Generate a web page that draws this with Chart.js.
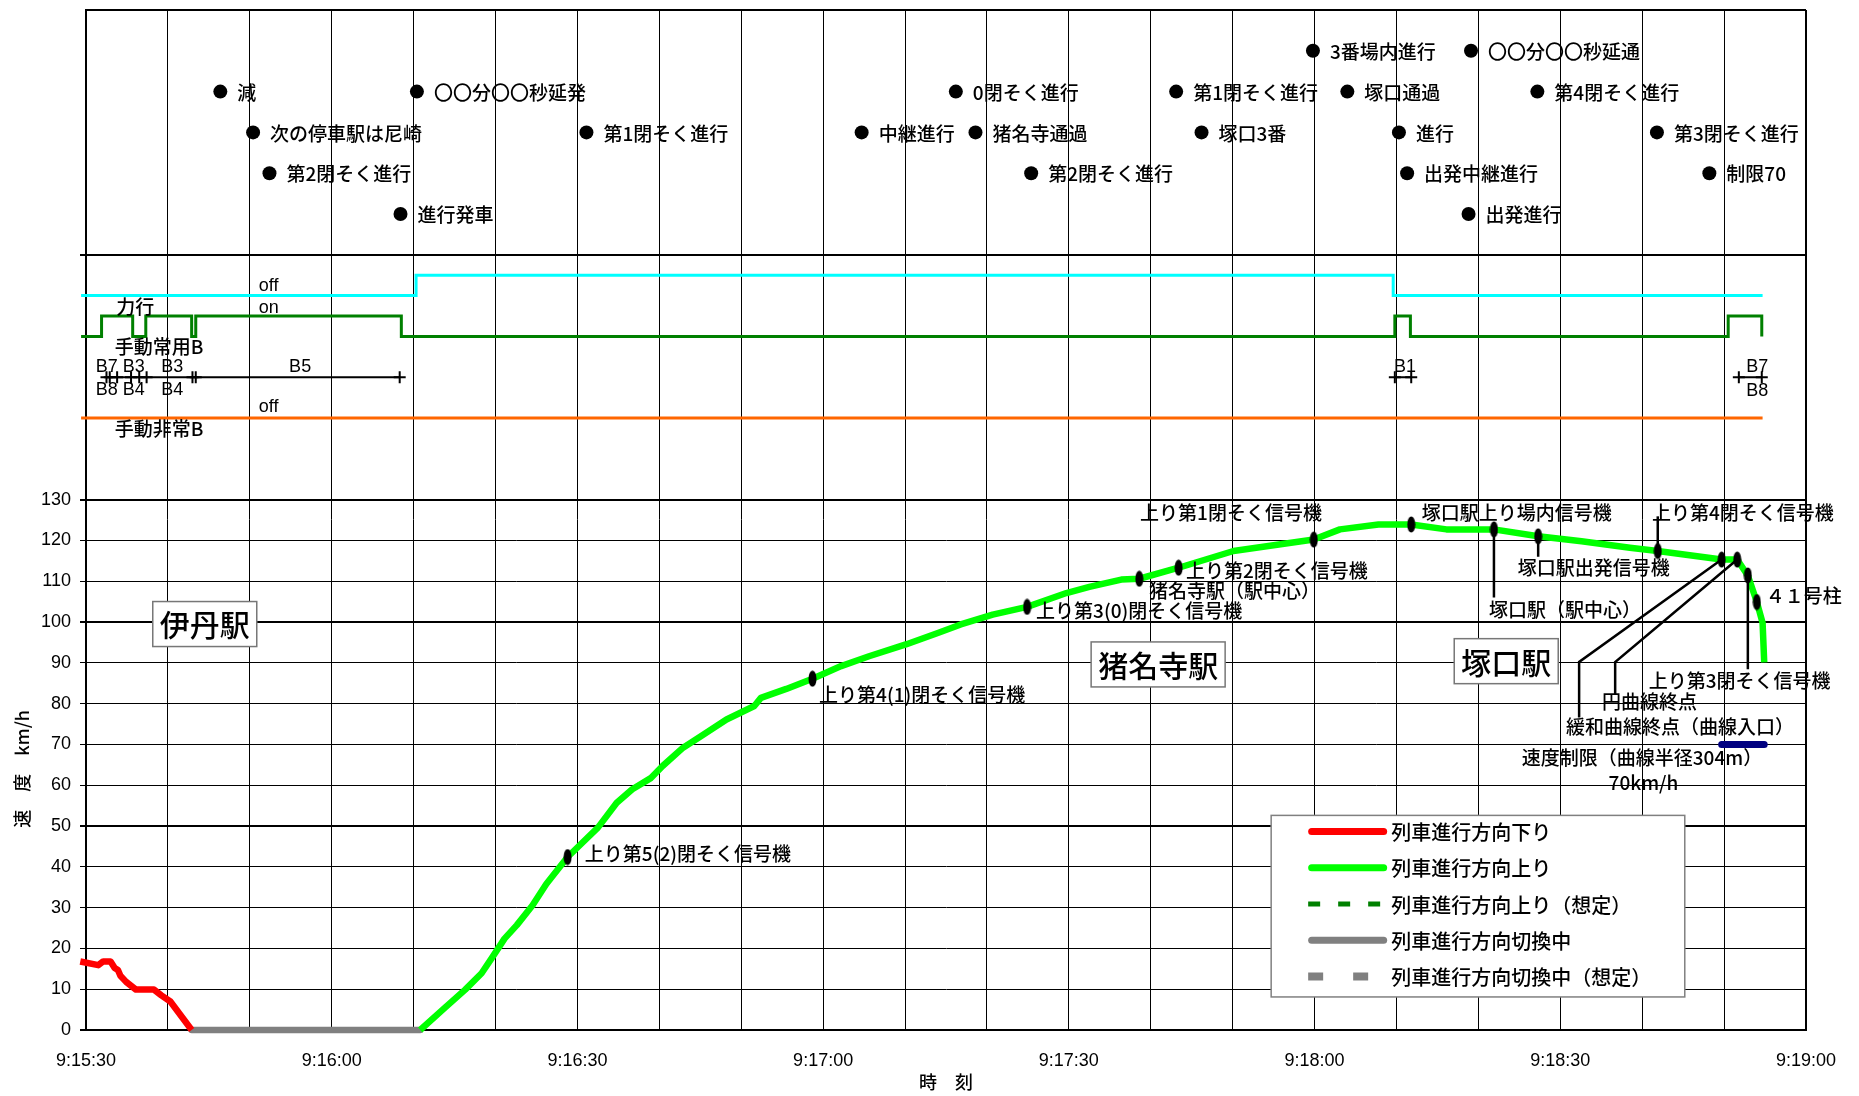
<!DOCTYPE html>
<html lang="ja">
<head>
<meta charset="utf-8">
<title>運転状況</title>
<script src="https://cdn.jsdelivr.net/npm/chart.js@4.4.1/dist/chart.umd.min.js"></script>
<style>
  html, body { margin: 0; padding: 0; background: #fff; }
</style>
</head>
<body>
<canvas id="chart" width="1859" height="1096"></canvas>
<script>
/* ------------------------------------------------------------------ */
/*  Data (time = seconds after 9:15:30, speed in km/h)                 */
/* ------------------------------------------------------------------ */

var T0 = 9 * 3600 + 15 * 60 + 30;

// 列車進行方向下り
var downT = [-0.7, 1.5, 2.1, 3.0, 3.5, 3.9, 4.2, 4.9, 6.1, 8.3, 9.2, 10.3, 12.9];
var downV = [16.8, 15.9, 16.8, 16.8, 15.2, 14.7, 13.3, 11.8, 9.9, 9.9, 8.5, 7.0, 0];

// 列車進行方向切換中
var switchT = [12.9, 40.8];
var switchV = [0, 0];

// 列車進行方向上り
var upT = [40.8, 43.9, 46.3, 48.3, 49.7, 51.1, 52.6, 54.5, 56.2, 58.8,
           62.5, 64.8, 66.7, 69.0, 70.4, 72.9, 75.4, 78.2, 81.6, 82.4,
           85.5, 88.7, 92.2, 95.6, 100.1, 104.0, 106.8, 110.7, 114.9, 119.7,
           122.5, 126.4, 128.6, 133.4, 140.1, 149.9, 153.1, 157.8, 161.8, 166.1,
           171.9, 177.3, 182.6, 188.5, 191.9, 199.7, 201.6, 202.9, 204.0, 204.7,
           204.9];
var upV = [0, 5.6, 9.9, 13.9, 18.1, 22.4, 25.7, 30.5, 35.8, 42.4,
           49.6, 55.7, 59.0, 61.8, 64.7, 69.2, 72.4, 76.1, 79.4, 81.4,
           83.6, 86.1, 89.2, 91.6, 94.5, 97.3, 99.4, 101.8, 103.7, 107.1,
           108.6, 110.4, 110.6, 113.3, 117.4, 120.2, 122.7, 123.9, 123.9, 122.7,
           122.7, 121.0, 119.8, 118.2, 117.4, 115.3, 115.3, 111.4, 104.9, 99.8,
           90.1];

// 速度制限 70km/h
var limitT = [199.7, 204.9];
var limitV = [70, 70];

// wayside points on the 上り run
var markNames = ["上り第5(2)閉そく信号機", "上り第4(1)閉そく信号機", "上り第3(0)閉そく信号機",
                 "猪名寺駅（駅中心）", "上り第2閉そく信号機", "上り第1閉そく信号機",
                 "塚口駅上り場内信号機", "塚口駅（駅中心）", "塚口駅出発信号機",
                 "上り第4閉そく信号機", "緩和曲線終点（曲線入口）", "円曲線終点",
                 "上り第3閉そく信号機", "４１号柱"];
var markT = [58.8, 88.7, 114.9, 128.6, 133.4, 149.9, 161.8, 171.9, 177.3, 191.9, 199.7, 201.6, 202.9, 204.0];
var markV = [42.4, 86.1, 103.7, 110.6, 113.3, 120.2, 123.9, 122.7, 121.0, 117.4, 115.3, 115.3, 111.4, 104.9];

// 喚呼 events (row 0 = top line)
var eventNames = ["3番場内進行", "〇〇分〇〇秒延通",
                  "減", "〇〇分〇〇秒延発", "0閉そく進行", "第1閉そく進行", "塚口通過", "第4閉そく進行",
                  "次の停車駅は尼崎", "第1閉そく進行", "中継進行", "猪名寺通過", "塚口3番", "進行", "第3閉そく進行",
                  "第2閉そく進行", "第2閉そく進行", "出発中継進行", "制限70",
                  "進行発車", "出発進行"];
var eventT = [149.8, 169.1,
              16.4, 40.4, 106.2, 133.1, 154.0, 177.2,
              20.4, 61.1, 94.7, 108.6, 136.2, 160.3, 191.8,
              22.4, 115.4, 161.3, 198.2,
              38.4, 168.8];
var eventRow = [0, 0,
                1, 1, 1, 1, 1, 1,
                2, 2, 2, 2, 2, 2, 2,
                3, 3, 3, 3,
                4, 4];

// on/off signals (0 = off, 1 = on), value holds from each time
var cyanT = [-0.6, 40.3, 159.6, 204.7];
var cyanS = [0, 1, 0, 0];
var powerT = [-0.6, 1.9, 5.7, 7.3, 12.9, 13.4, 38.5, 159.8, 161.7, 200.5, 204.6];
var powerS = [0, 1, 0, 1, 0, 1, 0, 1, 0, 1, 0];
var emergT = [-0.6, 204.7];
var emergS = [0, 0];

// 手動常用B notch changes
var brakeGroups = [
  [2.5, 2.9, 3.8, 5.5, 6.5, 7.4, 13.0, 13.4, 38.3],
  [159.8, 161.8],
  [201.8, 204.6]
];

var stationNames = ["伊丹駅", "猪名寺駅", "塚口駅"];
var yTicks = [0, 10, 20, 30, 40, 50, 60, 70, 80, 90, 100, 110, 120, 130];

/* ------------------------------------------------------------------ */
/*  Annotation layout (chart units)                                    */
/* ------------------------------------------------------------------ */

var JP = '"Noto Sans CJK JP", "Noto Sans", sans-serif';
var LAT = '"Liberation Sans", Arial, sans-serif';

var ROW_TOP = 240, ROW_STEP = 10;
var CYAN_BASE = 180, POWER_BASE = 170, BRAKE_LEVEL = 160, EMERG_BASE = 150, STEP_H = 5;

var markLabelT = [60.9, 89.5, 116.0, 129.8, 134.3, 128.7, 163.1, 171.3, 174.8, 191.2, 180.7, 185.1, 190.8, 205.1];
var markLabelV = [43.1, 82.2, 102.7, 107.6, 112.5, 126.7, 126.7, 103.1, 113.3, 126.7, 74.4, 80.4, 85.7, 106.4];

var leaders = [
  { mark: 9,  via: [[191.9, 125.9]] },
  { mark: 8,  via: [[177.3, 116.0]] },
  { mark: 7,  via: [[171.9, 106.0]] },
  { mark: 12, via: [[202.9, 88.4]] },
  { mark: 11, via: [[186.7, 90.2], [186.7, 82.1]] },
  { mark: 10, via: [[182.3, 90.2], [182.3, 76.6]] }
];

var extraLabels = [
  { text: "速度制限（曲線半径304m）", t: 175.3, v: 66.8 },
  { text: "70km/h", t: 185.9, v: 60.7 }
];

var stationBox = [[14.5, 99.5], [130.9, 89.6], [173.4, 90.4]];

var bandLabels = [
  { text: "off", t: 21.1, v: 182.4, f: LAT },
  { text: "力行", t: 3.7, v: 177.2, f: JP },
  { text: "on", t: 21.1, v: 176.9, f: LAT },
  { text: "手動常用B", t: 3.5, v: 167.4, f: JP },
  { text: "B7", t: 1.2, v: 162.5, f: LAT },
  { text: "B3", t: 4.5, v: 162.5, f: LAT },
  { text: "B3", t: 9.2, v: 162.5, f: LAT },
  { text: "B5", t: 24.8, v: 162.5, f: LAT },
  { text: "B8", t: 1.2, v: 156.8, f: LAT },
  { text: "B4", t: 4.5, v: 156.8, f: LAT },
  { text: "B4", t: 9.2, v: 156.8, f: LAT },
  { text: "off", t: 21.1, v: 152.6, f: LAT },
  { text: "手動非常B", t: 3.5, v: 147.3, f: JP },
  { text: "B1", t: 159.7, v: 162.5, f: LAT },
  { text: "B7", t: 202.7, v: 162.5, f: LAT },
  { text: "B8", t: 202.7, v: 156.6, f: LAT }
];

/* ------------------------------------------------------------------ */
/*  Helpers                                                            */
/* ------------------------------------------------------------------ */

function pts(ts, vs) {
  return ts.map(function (t, i) { return { x: t, y: vs[i] }; });
}

function steps(ts, ss, base) {
  return ts.map(function (t, i) { return { x: t, y: base + ss[i] * STEP_H }; });
}

function brakePoints() {
  var out = [];
  brakeGroups.forEach(function (g, gi) {
    if (gi > 0) out.push({ x: g[0], y: null });
    g.forEach(function (t) { out.push({ x: t, y: BRAKE_LEVEL }); });
  });
  return out;
}

function fmtTime(t) {
  var s = T0 + t, h = Math.floor(s / 3600), m = Math.floor(s / 60) % 60, sec = s % 60;
  return h + ":" + (m < 10 ? "0" : "") + m + ":" + (sec < 10 ? "0" : "") + sec;
}

function markImage() {
  var c = document.createElement("canvas");
  c.width = 9; c.height = 17;
  var g = c.getContext("2d");
  g.fillStyle = "#000";
  g.beginPath();
  g.ellipse(4.5, 8.5, 4, 8, 0, 0, Math.PI * 2);
  g.fill();
  return c;
}

function lineDs(data, color, width, extra) {
  var ds = { data: data, showLine: true, borderColor: color, backgroundColor: color,
             borderWidth: width, pointRadius: 0, fill: false, clip: false,
             borderJoinStyle: "round" };
  for (var k in extra) { ds[k] = extra[k]; }
  return ds;
}

/* ------------------------------------------------------------------ */
/*  Datasets                                                           */
/* ------------------------------------------------------------------ */

var datasets = [];

datasets.push({ data: pts(markT, markV), showLine: false, pointStyle: markImage(),
                pointRadius: 8, clip: false });

datasets.push({ data: eventT.map(function (t, i) { return { x: t, y: ROW_TOP - eventRow[i] * ROW_STEP }; }),
                showLine: false, pointStyle: "circle", pointRadius: 7,
                backgroundColor: "#000", borderWidth: 0, eventLabels: true });

leaders.forEach(function (l) {
  var d = [{ x: markT[l.mark], y: markV[l.mark] }];
  l.via.forEach(function (p) { d.push({ x: p[0], y: p[1] }); });
  datasets.push(lineDs(d, "#000", 2.5, { borderJoinStyle: "miter" }));
});

datasets.push(lineDs(pts(limitT, limitV), "#000080", 7, { borderCapStyle: "round" }));

datasets.push(lineDs(pts(downT, downV), "#ff0000", 6.5,
  { legend: "列車進行方向下り", lw: 7, lcap: "round" }));
datasets.push(lineDs(pts(upT, upV), "#00ff00", 6.5,
  { legend: "列車進行方向上り", lw: 7, lcap: "round" }));
datasets.push(lineDs([], "#008000", 5,
  { legend: "列車進行方向上り（想定）", lw: 5, ldash: [12, 18] }));
datasets.push(lineDs(pts(switchT, switchV), "#808080", 6.5,
  { legend: "列車進行方向切換中", lw: 7, lcap: "round", borderCapStyle: "round" }));
datasets.push(lineDs([], "#808080", 8,
  { legend: "列車進行方向切換中（想定）", lw: 8, ldash: [15, 30] }));

datasets.push(lineDs(steps(cyanT, cyanS, CYAN_BASE), "#00ffff", 3, { stepped: true, borderJoinStyle: "miter" }));
datasets.push(lineDs(steps(powerT, powerS, POWER_BASE), "#008000", 3, { stepped: true, borderJoinStyle: "miter" }));
datasets.push(lineDs(steps(emergT, emergS, EMERG_BASE), "#ff6600", 3, {}));
datasets.push(lineDs(brakePoints(), "#000", 2,
  { pointStyle: "cross", pointRadius: 6, pointBorderWidth: 2, pointBorderColor: "#000", spanGaps: false }));

/* ------------------------------------------------------------------ */
/*  Annotation plugin                                                  */
/* ------------------------------------------------------------------ */

function text(ctx, s, x, y, font, align) {
  ctx.font = font;
  ctx.textAlign = align || "left";
  ctx.textBaseline = "middle";
  ctx.fillStyle = "#000";
  ctx.fillText(s, x, y);
}

var LBL = "500 19px " + JP;

var annotate = {
  id: "annotate",
  afterDatasetsDraw: function (chart) {
    var ctx = chart.ctx, sx = chart.scales.x, sy = chart.scales.y;
    ctx.save();

    // event labels next to the dots
    chart.data.datasets.forEach(function (ds, di) {
      if (!ds.eventLabels) return;
      chart.getDatasetMeta(di).data.forEach(function (p, i) {
        text(ctx, eventNames[i], p.x + 17, p.y + 1, LBL);
      });
    });

    // wayside labels
    markNames.forEach(function (n, i) {
      text(ctx, n, sx.getPixelForValue(markLabelT[i]), sy.getPixelForValue(markLabelV[i]), LBL);
    });
    extraLabels.forEach(function (l) {
      text(ctx, l.text, sx.getPixelForValue(l.t), sy.getPixelForValue(l.v), LBL);
    });

    // upper band labels
    bandLabels.forEach(function (l) {
      var f = l.f === LAT ? "18px " + LAT : LBL;
      text(ctx, l.text, sx.getPixelForValue(l.t), sy.getPixelForValue(l.v), f);
    });

    // station boxes
    stationNames.forEach(function (n, i) {
      var cx = sx.getPixelForValue(stationBox[i][0]), cy = sy.getPixelForValue(stationBox[i][1]);
      ctx.font = "500 30px " + JP;
      var w = ctx.measureText(n).width + 14, h = 45;
      ctx.fillStyle = "#fff";
      ctx.fillRect(cx - w / 2, cy - h / 2, w, h);
      ctx.strokeStyle = "#777";
      ctx.lineWidth = 1.5;
      ctx.strokeRect(cx - w / 2, cy - h / 2, w, h);
      text(ctx, n, cx, cy + 1, "500 30px " + JP, "center");
    });

    // legend
    var items = chart.data.datasets.filter(function (d) { return d.legend; });
    var L = sx.getPixelForValue(144.7), R = sx.getPixelForValue(195.2);
    var T = sy.getPixelForValue(52.6), B = sy.getPixelForValue(8.1);
    ctx.fillStyle = "#fff";
    ctx.fillRect(L, T, R - L, B - T);
    ctx.strokeStyle = "#808080";
    ctx.lineWidth = 1.5;
    ctx.strokeRect(L, T, R - L, B - T);
    items.forEach(function (d, i) {
      var y = T + 16 + i * 36.3;
      ctx.save();
      ctx.strokeStyle = d.borderColor;
      ctx.lineWidth = d.lw;
      ctx.lineCap = d.lcap || "butt";
      ctx.setLineDash(d.ldash || []);
      var inset = d.lcap ? d.lw / 2 : 0;
      ctx.beginPath();
      ctx.moveTo(L + 37 + inset, y);
      ctx.lineTo(L + 116 - inset, y);
      ctx.stroke();
      ctx.restore();
      text(ctx, d.legend, L + 120, y + 1, "500 20px " + JP);
    });

    // y title
    ctx.save();
    ctx.translate(22, sy.getPixelForValue(64));
    ctx.rotate(-Math.PI / 2);
    text(ctx, "速　度　km/h", 0, 0, "500 18px " + JP, "center");
    ctx.restore();

    ctx.restore();
  }
};

/* ------------------------------------------------------------------ */
/*  Chart                                                              */
/* ------------------------------------------------------------------ */

function yShown(v) { return yTicks.indexOf(v) >= 0; }
function yMajor(v) { return v === 0 || v === 50 || v === 100 || v === 130 || v === 190 || v === 250; }

new Chart(document.getElementById("chart"), {
  type: "scatter",
  data: { datasets: datasets },
  options: {
    responsive: false,
    animation: false,
    devicePixelRatio: 1,
    layout: { padding: { left: 0, right: 53, top: 10, bottom: 0 } },
    plugins: { legend: { display: false }, tooltip: { enabled: false } },
    scales: {
      x: {
        type: "linear", min: 0, max: 210,
        ticks: {
          stepSize: 10, autoSkip: false, maxRotation: 0, padding: 20,
          color: "#000", font: { family: LAT, size: 18 },
          callback: function (v) { return v % 30 === 0 ? fmtTime(v) : ""; }
        },
        grid: {
          color: "#000", drawTicks: false,
          lineWidth: function (c) { return c.tick && c.tick.value === 210 ? 2 : 1; }
        },
        border: { color: "#000", width: 2 },
        title: { display: true, text: "時　刻", color: "#000", font: { family: JP, size: 18, weight: "500" },
                 padding: { top: 0, bottom: 3 } },
        afterFit: function (s) { s.height = 66; s.paddingLeft = 0; s.paddingRight = 0; }
      },
      y: {
        type: "linear", min: 0, max: 250,
        ticks: {
          stepSize: 10, autoSkip: false, padding: 9,
          color: "#000", font: { family: LAT, size: 18 },
          callback: function (v) { return yShown(v) ? String(v) : ""; }
        },
        grid: {
          tickLength: 6,
          color: function (c) { var v = c.tick.value; return (yShown(v) || v === 190 || v === 250) ? "#000" : "rgba(0,0,0,0)"; },
          tickColor: function (c) { var v = c.tick.value; return (yShown(v) || v === 190) ? "#000" : "rgba(0,0,0,0)"; },
          lineWidth: function (c) { return yMajor(c.tick.value) ? 2 : 1; }
        },
        border: { color: "#000", width: 2 },
        afterFit: function (s) { s.width = 86; s.paddingTop = 0; s.paddingBottom = 0; }
      }
    }
  },
  plugins: [annotate]
});
</script>
</body>
</html>
